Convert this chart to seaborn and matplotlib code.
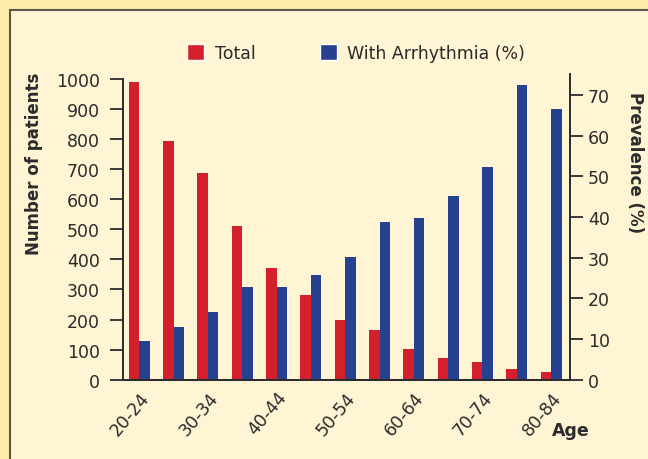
import numpy as np
import pandas as pd
import matplotlib
matplotlib.use("Agg")
import matplotlib.pyplot as plt
from matplotlib.patches import Patch, Rectangle
import seaborn as sns

# =====================================
# Data
# =====================================

age_groups = ["20-24", "25-29", "30-34", "35-39", "40-44", "45-49", "50-54",
              "55-59", "60-64", "65-69", "70-74", "75-79", "80-84"]
total_patients = [989, 793, 686, 510, 371, 282, 199, 165, 103, 73, 58, 34, 24]
arrhythmia_pct = [9.6, 13.0, 16.7, 22.9, 22.9, 25.8, 30.1, 38.9, 39.8, 45.2, 52.4, 72.4, 66.6]
tick_labels = ["20-24", "30-34", "40-44", "50-54", "60-64", "70-74", "80-84"]
series = ["Total", "With Arrhythmia (%)"]

red = "#D3202A"
blue = "#26418F"

# long tables: the other series gets 0 so dodge keeps both slots
left_df = pd.DataFrame({
    "age": age_groups * 2,
    "series": [series[0]] * 13 + [series[1]] * 13,
    "value": total_patients + [0] * 13,
})
right_df = pd.DataFrame({
    "age": age_groups * 2,
    "series": [series[0]] * 13 + [series[1]] * 13,
    "value": [0] * 13 + arrhythmia_pct,
})

# =====================================
# Style
# =====================================

sns.set_style("ticks")
plt.rcParams["font.family"] = ["DejaVu Sans"]
ink = "#2B2B2B"

fig = plt.figure(figsize=(6.48, 4.6), dpi=100)
fig.patch.set_facecolor("#FDEBAC")
fig.patches.append(Rectangle((9.5 / 648, -0.1), 1.2, 1.1 - 11 / 460,
                             transform=fig.transFigure, facecolor="#FFF4D4",
                             edgecolor="#5E5646", linewidth=1.5, zorder=-10))

ax = fig.add_axes([123 / 648, 1 - 380.7 / 460, 447 / 648, 305.7 / 460])
ax.set_facecolor("none")
ax2 = ax.twinx()

sns.barplot(data=left_df, x="age", y="value", hue="series", hue_order=series,
            palette=[red, blue], width=0.61, dodge=True, linewidth=0,
            saturation=1, legend=False, ax=ax)
sns.barplot(data=right_df, x="age", y="value", hue="series", hue_order=series,
            palette=[red, blue], width=0.61, dodge=True, linewidth=0,
            saturation=1, legend=False, ax=ax2)

ax.set_xlim(-0.475, 12.55)
ax.set_ylim(0, 1016.6)
ax2.set_ylim(0, 75.2)

ax.set_yticks(np.arange(0, 1001, 100))
ax2.set_yticks(np.arange(0, 71, 10))
ax.set_xticks(range(0, 13, 2))
ax.set_xticklabels(tick_labels, rotation=50, ha="right", rotation_mode="anchor")

for a in (ax, ax2):
    a.spines["top"].set_visible(False)
    for s in a.spines.values():
        s.set_color(ink)
        s.set_linewidth(1.4)
    a.set_xlabel("")
    a.set_ylabel("")

ax.spines["right"].set_visible(False)
ax.spines["left"].set_bounds(0, 1000)
ax2.spines["left"].set_visible(False)

ax.tick_params(axis="y", length=9.5, width=1.3, color=ink, labelcolor=ink,
               labelsize=12.5, pad=7)
ax.tick_params(axis="x", length=0, labelcolor=ink, labelsize=12.5, pad=6)
ax2.tick_params(axis="y", length=9.5, width=1.3, color=ink, labelcolor=ink,
                labelsize=12.5, pad=3.5)

ax.set_ylabel("Number of patients", fontsize=12, fontweight="bold", color=ink)
ax.yaxis.set_label_coords(-0.179, 0.71)
ax2.set_ylabel("Prevalence (%)", fontsize=12, fontweight="bold", color=ink,
               rotation=270, va="center")
ax2.yaxis.set_label_coords(1.145, 0.714)

fig.text(552 / 648, 1 - 431 / 460, "Age", fontsize=12.5, fontweight="bold",
         color=ink, va="center")

handles = [Patch(facecolor=red, label=series[0]),
           Patch(facecolor=blue, label=series[1])]
fig.legend(handles=handles, loc="center", bbox_to_anchor=(356 / 648, 1 - 54 / 460),
           ncol=2, frameon=False, fontsize=12.5, handlelength=1.0, handleheight=1.0,
           handletextpad=0.6, columnspacing=3.7, labelcolor=ink)

fig.savefig("out.png", dpi=100, facecolor=fig.get_facecolor())
